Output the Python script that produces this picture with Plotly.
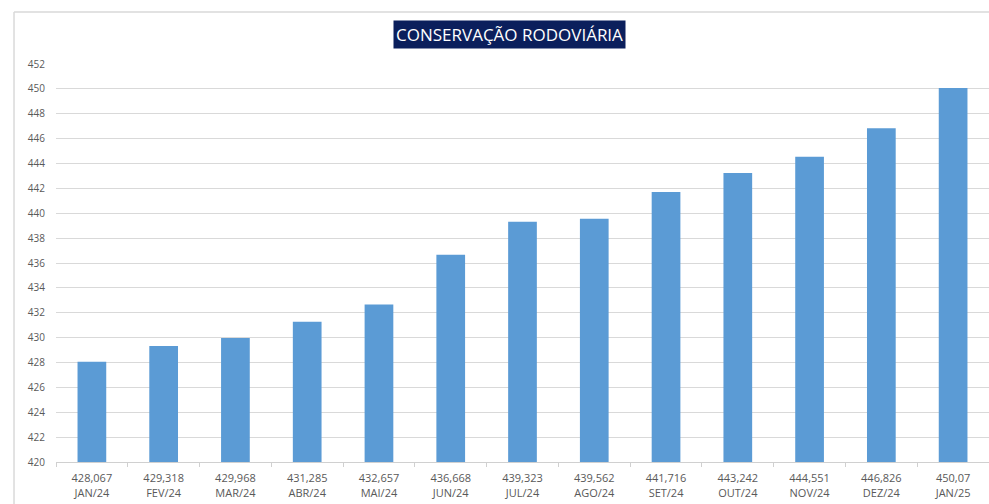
import plotly.graph_objects as go

months = ["JAN/24", "FEV/24", "MAR/24", "ABR/24", "MAI/24", "JUN/24", "JUL/24",
          "AGO/24", "SET/24", "OUT/24", "NOV/24", "DEZ/24", "JAN/25"]
values = [428.067, 429.318, 429.968, 431.285, 432.657, 436.668, 439.323,
          439.562, 441.716, 443.242, 444.551, 446.826, 450.07]
value_labels = ["428,067", "429,318", "429,968", "431,285", "432,657", "436,668", "439,323",
                "439,562", "441,716", "443,242", "444,551", "446,826", "450,07"]
y_ticks = list(range(420, 453, 2))
title = "CONSERVAÇÃO RODOVIÁRIA"

ticktext = [f"{v}<br>{m}" for v, m in zip(value_labels, months)]

fig = go.Figure(go.Bar(x=months, y=values, marker=dict(color="#5B9BD5", line=dict(width=0)),
                       width=0.4))

FONT = "Open Sans"
fig.update_layout(
    width=989, height=504,
    margin=dict(l=56, r=0, t=64, b=42),
    paper_bgcolor="white", plot_bgcolor="white",
    showlegend=False,
    font=dict(family=FONT, color="#595959", size=11),
    xaxis=dict(tickmode="array", tickvals=months, ticktext=ticktext,
               tickson="boundaries", ticks="outside", ticklen=4, tickcolor="#d0d0d0",
               showline=True, linecolor="#d0d0d0", linewidth=1, automargin=False,
               showgrid=False, tickfont=dict(size=11, color="#595959"),
               ticklabelstandoff=6),
    yaxis=dict(range=[420, 452], tickvals=y_ticks, showgrid=True, gridcolor="#d9d9d9",
               gridwidth=1, zeroline=False, showline=False, ticks="", automargin=False,
               tickfont=dict(size=10, color="#595959"), ticklabelstandoff=10),
    bargap=0.6,
)

# frame
fig.add_shape(type="line", xref="paper", yref="paper", x0=-0.045, x1=1.01, y0=1.1307, y1=1.1307,
              line=dict(color="#d9d9d9", width=1.5))
fig.add_shape(type="line", xref="paper", yref="paper", x0=-0.045, x1=-0.045, y0=-0.2, y1=1.1307,
              line=dict(color="#d9d9d9", width=1.5))

fig.add_annotation(text=title, xref="paper", yref="paper", x=0.4866, y=1.0729, xanchor="center",
                   yanchor="middle", showarrow=False,
                   font=dict(family=FONT, size=17, color="white"),
                   bgcolor="#0B1F5C", borderpad=2)

fig.write_html("out.html", config={"displayModeBar": False},
               post_script="document.body.style.margin='0';document.body.style.overflow='hidden';")
